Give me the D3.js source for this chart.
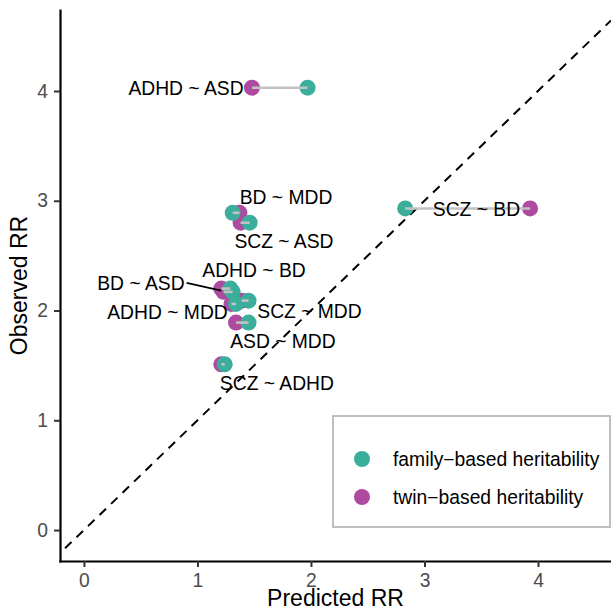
<!DOCTYPE html>
<html>
<head>
<meta charset="utf-8">
<script src="https://cdn.jsdelivr.net/npm/d3@7"></script>
<style>
  html, body { margin: 0; padding: 0; background: #fff; }
  svg { display: block; font-family: "Liberation Sans", Arial, Helvetica, sans-serif; }
</style>
</head>
<body>
<svg id="chart" width="611" height="611"></svg>
<script>
// ---- data ----
const pairs = ["ADHD ~ ASD", "SCZ ~ BD", "BD ~ MDD", "SCZ ~ ASD", "ADHD ~ BD",
               "BD ~ ASD", "ADHD ~ MDD", "SCZ ~ MDD", "ASD ~ MDD", "SCZ ~ ADHD"];
const observedRR      = [4.03, 2.93, 2.89, 2.80, 2.17, 2.20, 2.06, 2.09, 1.89, 1.51];
const predictedFamily = [1.97, 2.83, 1.31, 1.46, 1.31, 1.29, 1.34, 1.45, 1.45, 1.24];
const predictedTwin   = [1.48, 3.93, 1.37, 1.38, 1.23, 1.21, 1.30, 1.39, 1.34, 1.21];
const seriesLabels = ["family\u2212based heritability", "twin\u2212based heritability"];
const xTicks = [0, 1, 2, 3, 4];
const yTicks = [0, 1, 2, 3, 4];

// ---- layout (label anchor positions in data units) ----
const labelAt = {
  "ADHD ~ ASD": [0.899, 4.027],
  "SCZ ~ BD":   [3.458, 2.925],
  "BD ~ MDD":   [1.780, 3.030],
  "SCZ ~ ASD":  [1.762, 2.633],
  "ADHD ~ BD":  [1.498, 2.369],
  "BD ~ ASD":   [0.502, 2.251],
  "ADHD ~ MDD": [0.736, 1.986],
  "SCZ ~ MDD":  [1.987, 1.995],
  "ASD ~ MDD":  [1.753, 1.722],
  "SCZ ~ ADHD": [1.700, 1.339]
};
const leaderFor = { "BD ~ ASD": "twin" };

const colors = { family: "#3AAE9B", twin: "#AE4A9F" };
const FS = 19.3;

const svg = d3.select("#chart");
const panel = { left: 60, right: 611, top: 10, bottom: 561 };

const x = d3.scaleLinear().domain([-0.211, 4.643]).range([panel.left, panel.right]);
const y = d3.scaleLinear().domain([-0.282, 4.738]).range([panel.bottom, panel.top]);

const rows = pairs.map((p, i) => ({
  pair: p, obs: observedRR[i], fam: predictedFamily[i], twin: predictedTwin[i]
}));

// clip
svg.append("defs").append("clipPath").attr("id", "clip")
  .append("rect").attr("x", panel.left).attr("y", panel.top)
  .attr("width", panel.right - panel.left).attr("height", panel.bottom - panel.top);

const plot = svg.append("g").attr("clip-path", "url(#clip)");

// identity line y = x
const d0 = Math.max(x.domain()[0], y.domain()[0]);
const d1 = Math.min(x.domain()[1], y.domain()[1]);
plot.append("line")
  .attr("x1", x(d0)).attr("y1", y(d0))
  .attr("x2", x(d1)).attr("y2", y(d1))
  .attr("stroke", "#000").attr("stroke-width", 2)
  .attr("stroke-dasharray", "9,7")
  .attr("stroke-dashoffset", 9);

// points: twin first, then family on top
plot.selectAll("circle.twin").data(rows).join("circle")
  .attr("class", "twin")
  .attr("cx", d => x(d.twin)).attr("cy", d => y(d.obs)).attr("r", 8)
  .attr("fill", colors.twin);
plot.selectAll("circle.fam").data(rows).join("circle")
  .attr("class", "fam")
  .attr("cx", d => x(d.fam)).attr("cy", d => y(d.obs)).attr("r", 8)
  .attr("fill", colors.family);

// segments on top
plot.selectAll("line.seg").data(rows).join("line")
  .attr("class", "seg")
  .attr("x1", d => x(d.twin)).attr("x2", d => x(d.fam))
  .attr("y1", d => y(d.obs)).attr("y2", d => y(d.obs))
  .attr("stroke", "#C2C2C2").attr("stroke-width", 2.6);

// labels
const labelG = svg.append("g");
rows.forEach(d => {
  const [lx, ly] = labelAt[d.pair];
  const t = labelG.append("text")
    .attr("x", x(lx)).attr("y", y(ly))
    .attr("dy", "0.35em")
    .attr("text-anchor", "middle")
    .attr("font-size", FS)
    .attr("fill", "#000")
    .text(d.pair);
  if (leaderFor[d.pair]) {
    const w = t.node().getComputedTextLength();
    const px = leaderFor[d.pair] === "twin" ? x(d.twin) : x(d.fam);
    labelG.append("line")
      .attr("x1", x(lx) + w / 2 + 2).attr("y1", y(ly))
      .attr("x2", px).attr("y2", y(d.obs) + 2)
      .attr("stroke", "#000").attr("stroke-width", 1.8);
  }
});

// axes
const xAxis = svg.append("g")
  .attr("transform", `translate(0,${panel.bottom})`)
  .call(d3.axisBottom(x).tickValues(xTicks).tickSize(6).tickSizeOuter(0).tickPadding(6).tickFormat(d3.format("d")));
const yAxis = svg.append("g")
  .attr("transform", `translate(${panel.left},0)`)
  .call(d3.axisLeft(y).tickValues(yTicks).tickSize(6).tickSizeOuter(0).tickPadding(6).tickFormat(d3.format("d")));

[xAxis, yAxis].forEach(g => {
  g.select(".domain").attr("stroke", "#000").attr("stroke-width", 2.2).attr("stroke-linecap", "square");
  g.selectAll(".tick line").attr("stroke", "#333").attr("stroke-width", 2);
  g.selectAll(".tick text").attr("fill", "#4D4D4D").attr("font-size", FS)
    .attr("font-family", "Liberation Sans, Arial, sans-serif");
});

// axis titles
svg.append("text")
  .attr("x", (panel.left + panel.right) / 2).attr("y", 606)
  .attr("text-anchor", "middle").attr("font-size", 23).attr("fill", "#000")
  .text("Predicted RR");
svg.append("text")
  .attr("transform", `translate(26.5,${(panel.top + panel.bottom) / 2}) rotate(-90)`)
  .attr("text-anchor", "middle").attr("font-size", 23).attr("fill", "#000")
  .text("Observed RR");

// legend
const lg = svg.append("g");
lg.append("rect").attr("x", 333).attr("y", 416).attr("width", 277).attr("height", 111)
  .attr("fill", "#fff").attr("stroke", "#BFBFBF").attr("stroke-width", 2);
const legendItems = [
  { label: seriesLabels[0], color: colors.family },
  { label: seriesLabels[1], color: colors.twin }
];
legendItems.forEach((it, i) => {
  const cy = 459 + i * 38;
  lg.append("circle").attr("cx", 362).attr("cy", cy).attr("r", 8).attr("fill", it.color);
  lg.append("text").attr("x", 393).attr("y", cy).attr("dy", "0.35em")
    .attr("font-size", FS).attr("fill", "#000").text(it.label);
});
</script>
</body>
</html>
